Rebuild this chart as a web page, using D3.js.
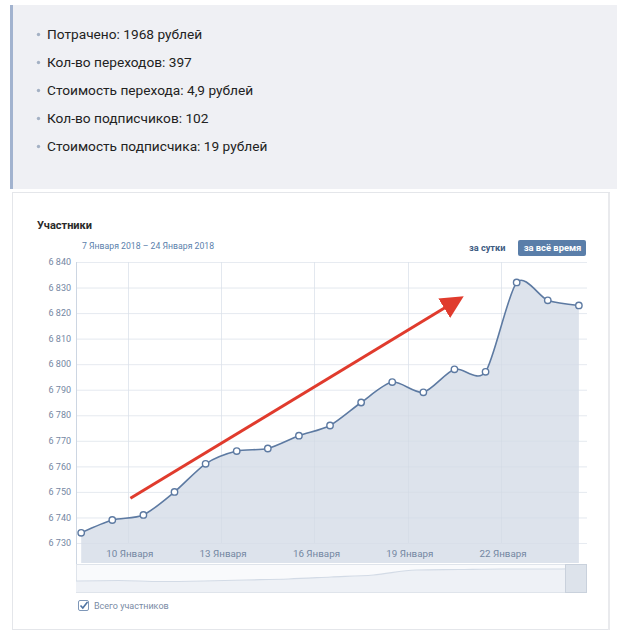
<!DOCTYPE html>
<html>
<head>
<meta charset="utf-8">
<script src="https://cdn.jsdelivr.net/npm/d3@7"></script>
<style>
  html, body { margin: 0; padding: 0; background: #fff; }
  svg { display: block; }
</style>
</head>
<body>
<svg id="chart" width="628" height="643"></svg>
<script>
'use strict'

// summary lines shown above the chart
const summaryLines = [
  'Потрачено: 1968 рублей',
  'Кол-во переходов: 397',
  'Стоимость перехода: 4,9 рублей',
  'Кол-во подписчиков: 102',
  'Стоимость подписчика: 19 рублей'
]

// one point per day, Jan 8 .. Jan 24 2018
const dayNumbers = [8, 9, 10, 11, 12, 13, 14, 15, 16, 17, 18, 19, 20, 21, 22, 23, 24]
const members = [6734, 6739, 6741, 6750, 6761, 6766, 6767, 6772, 6776, 6785, 6793, 6789, 6798, 6797, 6832, 6825, 6823]

const yTicks = [6730, 6740, 6750, 6760, 6770, 6780, 6790, 6800, 6810, 6820, 6830, 6840]
const xTickDays = [10, 13, 16, 19, 22]

// overview strip under the chart (relative level)
const navLevels = [3, 3.5, 2.5, 3, 4, 5, 7, 9, 14, 14.5, 15, 15, 15.5]

// annotation arrow, in chart units: [day, value]
const arrowFrom = [10.1, 6747.5]
const arrowTo = [20.8, 6826.5]

const svg = d3.select('#chart')

// ---- summary block
const summary = svg.append('g')
summary.append('rect')
  .attr('x', 10).attr('y', 5).attr('width', 607).attr('height', 184)
  .attr('fill', '#eff0f4')
summary.append('rect')
  .attr('x', 10).attr('y', 5).attr('width', 3).attr('height', 184)
  .attr('fill', '#a2b3cf')

summary.selectAll('.line')
  .data(summaryLines)
  .enter()
  .append('g')
  .attr('transform', (d, i) => `translate(0, ${34 + i * 28})`)
  .each((d, i, nodes) => {
    const g = d3.select(nodes[i])
    g.append('circle')
      .attr('cx', 38.5).attr('cy', 0.5).attr('r', 1.7)
      .attr('fill', '#a4b1c4')
    g.append('text')
      .attr('x', 47).attr('dy', '0.36em')
      .attr('font-family', 'Roboto, sans-serif')
      .attr('font-size', 13.7)
      .attr('fill', '#222')
      .text(d)
  })

// ---- chart card
const card = svg.append('g')
card.append('rect')
  .attr('x', 12.5).attr('y', 192.5).attr('width', 597).attr('height', 437)
  .attr('fill', '#fff').attr('stroke', '#e4e6ea')
card.append('line')
  .attr('x1', 609).attr('x2', 609).attr('y1', 193).attr('y2', 630)
  .attr('stroke', '#e9eaed').attr('stroke-width', 2)

const font = 'Roboto, sans-serif'

card.append('text')
  .attr('x', 37).attr('y', 229)
  .attr('font-family', font).attr('font-size', 11).attr('font-weight', 700)
  .attr('fill', '#2a2a2a')
  .text('Участники')

card.append('text')
  .attr('x', 82).attr('y', 249)
  .attr('font-family', font).attr('font-size', 8.7)
  .attr('fill', '#5b7fac')
  .text('7 Января 2018 – 24 Января 2018')

card.append('text')
  .attr('x', 469).attr('y', 251)
  .attr('font-family', font).attr('font-size', 9.2).attr('font-weight', 700)
  .attr('fill', '#3e5b82')
  .text('за сутки')

card.append('rect')
  .attr('x', 518).attr('y', 240).attr('width', 68).attr('height', 16).attr('rx', 2)
  .attr('fill', '#5a7ea9')
card.append('text')
  .attr('x', 552.5).attr('y', 251)
  .attr('text-anchor', 'middle')
  .attr('font-family', font).attr('font-size', 9.4).attr('font-weight', 700)
  .attr('fill', '#fff')
  .text('за всё время')

// ---- scales
const plot = { left: 76, right: 586, top: 262, bottom: 543, band: 563 }
const dayDate = (d) => new Date(2018, 0, Math.floor(d), (d % 1) * 24)
const pointDate = (d) => new Date(2018, 0, d, 12)

const x = d3.scaleTime()
  .domain([new Date(2018, 0, 8, 8), new Date(2018, 0, 24, 17, 30)])
  .range([plot.left, plot.right])
const y = d3.scaleLinear()
  .domain([6730, 6840])
  .range([plot.bottom, plot.top])

const points = dayNumbers.map((d, i) => ({ date: pointDate(d), value: members[i] }))

const chart = svg.append('g')

// grid
chart.append('g')
  .selectAll('line')
  .data(yTicks)
  .enter()
  .append('line')
  .attr('x1', plot.left).attr('x2', plot.right + 1)
  .attr('y1', d => y(d) + 0.5).attr('y2', d => y(d) + 0.5)
  .attr('stroke', '#eff2f6')

chart.append('g')
  .selectAll('line')
  .data(xTickDays)
  .enter()
  .append('line')
  .attr('x1', d => Math.round(x(new Date(2018, 0, d))) + 0.5)
  .attr('x2', d => Math.round(x(new Date(2018, 0, d))) + 0.5)
  .attr('y1', plot.top).attr('y2', plot.bottom)
  .attr('stroke', '#eef1f6')

// area fill, down through the label band
const curve = d3.curveCardinal.tension(0.2)
const area = d3.area()
  .x(d => x(d.date))
  .y0(plot.band)
  .y1(d => y(d.value))
  .curve(curve)
chart.append('path')
  .datum(points)
  .attr('d', area)
  .attr('fill', '#d9e0ea')
  .attr('fill-opacity', 0.9)

// grid lines show faintly through the fill
chart.append('g')
  .selectAll('line')
  .data(xTickDays)
  .enter()
  .append('line')
  .attr('x1', d => Math.round(x(new Date(2018, 0, d))) + 0.5)
  .attr('x2', d => Math.round(x(new Date(2018, 0, d))) + 0.5)
  .attr('y1', plot.top).attr('y2', plot.bottom)
  .attr('stroke', '#cfd7e3').attr('stroke-opacity', 0.35)
chart.append('g')
  .selectAll('line')
  .data(yTicks)
  .enter()
  .append('line')
  .attr('x1', plot.left).attr('x2', plot.right + 1)
  .attr('y1', d => y(d) + 0.5).attr('y2', d => y(d) + 0.5)
  .attr('stroke', '#cfd7e3').attr('stroke-opacity', 0.25)

// y axis line
chart.append('line')
  .attr('x1', plot.left + 0.5).attr('x2', plot.left + 0.5)
  .attr('y1', plot.top).attr('y2', plot.band + 30)
  .attr('stroke', '#cdd6e2')

// y labels
const fmt = (v) => d3.format(',')(v).replace(',', ' ')
chart.append('g')
  .selectAll('text')
  .data(yTicks)
  .enter()
  .append('text')
  .attr('x', plot.left - 5)
  .attr('y', d => y(d))
  .attr('dy', '0.35em')
  .attr('text-anchor', 'end')
  .attr('font-family', font).attr('font-size', 9)
  .attr('fill', '#7487a2')
  .text(fmt)

// x labels
chart.append('g')
  .selectAll('text')
  .data(xTickDays)
  .enter()
  .append('text')
  .attr('x', d => x(new Date(2018, 0, d)) + 2)
  .attr('y', plot.bottom + 11)
  .attr('dy', '0.35em')
  .attr('text-anchor', 'middle')
  .attr('font-family', font).attr('font-size', 9.8)
  .attr('fill', '#7487a2')
  .text(d => `${d} Января`)

// the line
const line = d3.line()
  .x(d => x(d.date))
  .y(d => y(d.value))
  .curve(curve)
chart.append('path')
  .datum(points)
  .attr('d', line)
  .attr('fill', 'none')
  .attr('stroke', '#5d7aa2')
  .attr('stroke-width', 1.6)

chart.append('g')
  .selectAll('circle')
  .data(points)
  .enter()
  .append('circle')
  .attr('cx', d => x(d.date))
  .attr('cy', d => y(d.value))
  .attr('r', 3.2)
  .attr('fill', '#fff')
  .attr('stroke', '#5d7aa2')
  .attr('stroke-width', 1.4)

// red arrow
const defs = svg.append('defs')
defs.append('marker')
  .attr('id', 'head')
  .attr('viewBox', '0 0 10 10')
  .attr('refX', 2).attr('refY', 5)
  .attr('markerWidth', 7.6).attr('markerHeight', 7.6)
  .attr('orient', 'auto')
  .append('path')
  .attr('d', 'M0,0 L10,5 L0,10 z')
  .attr('fill', '#e03b2d')

const a0 = [x(dayDate(arrowFrom[0])), y(arrowFrom[1])]
const a1 = [x(dayDate(arrowTo[0])), y(arrowTo[1])]
const len = Math.hypot(a1[0] - a0[0], a1[1] - a0[1])
const shorten = 18
chart.append('line')
  .attr('x1', a0[0]).attr('y1', a0[1])
  .attr('x2', a1[0] - (a1[0] - a0[0]) / len * shorten)
  .attr('y2', a1[1] - (a1[1] - a0[1]) / len * shorten)
  .attr('stroke', '#e03b2d')
  .attr('stroke-width', 3)
  .attr('marker-end', 'url(#head)')

// ---- overview strip
const nav = { top: 564, bottom: 592 }
const navX = d3.scaleLinear()
  .domain([0, navLevels.length - 1])
  .range([plot.left, plot.right])
const navY = d3.scaleLinear()
  .domain([0, 20])
  .range([nav.bottom - 8, nav.top])

const navG = svg.append('g')
navG.append('rect')
  .attr('x', plot.left + 0.5).attr('y', nav.top + 0.5)
  .attr('width', plot.right - plot.left).attr('height', nav.bottom - nav.top)
  .attr('fill', '#f9fafc').attr('stroke', '#dfe4eb')
navG.append('path')
  .datum(navLevels)
  .attr('d', d3.area()
    .x((d, i) => navX(i))
    .y0(nav.bottom)
    .y1(d => navY(d))
    .curve(d3.curveMonotoneX))
  .attr('fill', '#eef1f6')
navG.append('path')
  .datum(navLevels)
  .attr('d', d3.line()
    .x((d, i) => navX(i))
    .y(d => navY(d))
    .curve(d3.curveMonotoneX))
  .attr('fill', 'none')
  .attr('stroke', '#d3dbe6')
  .attr('stroke-width', 1.2)
navG.append('rect')
  .attr('x', plot.right - 21 + 0.5).attr('y', nav.top + 0.5)
  .attr('width', 21).attr('height', nav.bottom - nav.top)
  .attr('fill', '#dde3eb').attr('stroke', '#c9d1dc')

// legend checkbox
const legend = svg.append('g').attr('transform', 'translate(78, 600)')
legend.append('rect')
  .attr('x', 0.5).attr('y', 0.5).attr('width', 10).attr('height', 10).attr('rx', 1.5)
  .attr('fill', '#fff').attr('stroke', '#7e97b8')
legend.append('path')
  .attr('d', 'M2.5,5.5 L4.8,8 L9.5,2')
  .attr('fill', 'none').attr('stroke', '#4f74a3').attr('stroke-width', 1.6)
legend.append('text')
  .attr('x', 16).attr('y', 6).attr('dy', '0.35em')
  .attr('font-family', font).attr('font-size', 9)
  .attr('fill', '#7a8ba5')
  .text('Всего участников')
</script>
</body>
</html>
